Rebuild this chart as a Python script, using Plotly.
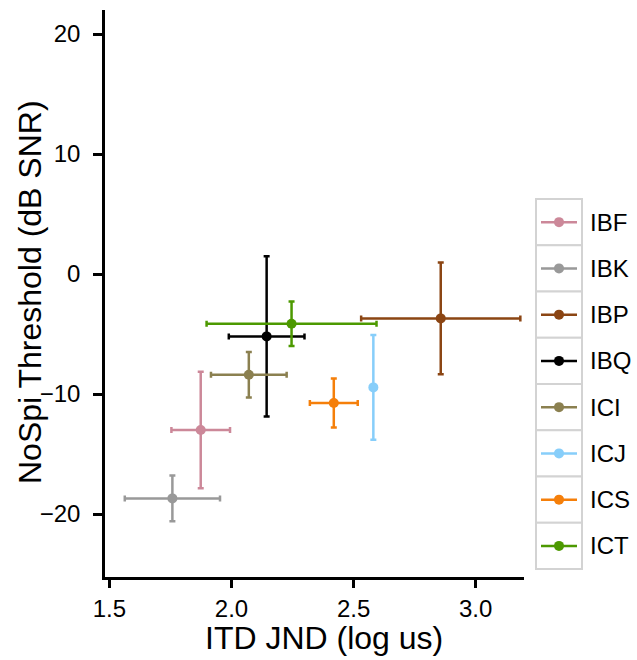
import plotly.graph_objects as go

names = ["IBF", "IBK", "IBP", "IBQ", "ICI", "ICJ", "ICS", "ICT"]
itd_jnd = [1.874, 1.758, 2.857, 2.144, 2.071, 2.581, 2.419, 2.246]
itd_err = [0.120, 0.195, 0.326, 0.155, 0.155, 0.0, 0.098, 0.348]
threshold = [-13.0, -18.7, -3.7, -5.2, -8.4, -9.45, -10.75, -4.15]
thr_err = [4.85, 1.9, 4.65, 6.68, 1.9, 4.37, 2.05, 1.85]
colors = ["#CC8899", "#999999", "#8B4513", "#000000", "#8B8050",
          "#87CEFA", "#F57F0A", "#4C9900"]

x_ticks = [1.5, 2.0, 2.5, 3.0]
x_ticklabels = ["1.5", "2.0", "2.5", "3.0"]
y_ticks = [-20, -10, 0, 10, 20]
x_title = "ITD JND (log us)"
y_title = "NoSpi Threshold (dB SNR)"

W, H = 637, 660
L, R, T, B = 105, 113, 10, 83
pw, ph = W - L - R, H - T - B

FONT = "Liberation Sans, Arial, sans-serif"

fig = go.Figure()
for n, x, xe, y, ye, c in zip(names, itd_jnd, itd_err, threshold, thr_err, colors):
    fig.add_trace(go.Scatter(
        x=[x], y=[y], name=n, mode="markers",
        marker=dict(color=c, size=10),
        error_x=dict(type="data", array=[xe], color=c, thickness=2.5, width=3, visible=xe > 0),
        error_y=dict(type="data", array=[ye], color=c, thickness=2.5, width=3),
        showlegend=False,
    ))

def px2x(px):
    return (px - L) / pw

def px2y(py):
    return (H - B - py) / ph

shapes = []
annotations = []
top = 199
step = 46.25
bx0, bx1 = 536, 582
for i, (n, c) in enumerate(zip(names, colors)):
    y0 = top + i * step
    y1 = y0 + step
    yc = (y0 + y1) / 2
    shapes.append(dict(type="rect", xref="paper", yref="paper",
                       x0=px2x(bx0), x1=px2x(bx1), y0=px2y(y1), y1=px2y(y0),
                       line=dict(color="#D3D3D3", width=2), fillcolor="white", layer="below"))
    shapes.append(dict(type="line", xref="paper", yref="paper",
                       x0=px2x(541), x1=px2x(577), y0=px2y(yc), y1=px2y(yc),
                       line=dict(color=c, width=2.5)))
    shapes.append(dict(type="circle", xref="paper", yref="paper",
                       x0=px2x(554), x1=px2x(564), y0=px2y(yc + 5), y1=px2y(yc - 5),
                       line=dict(color=c, width=0), fillcolor=c))
    annotations.append(dict(xref="paper", yref="paper", x=px2x(588), y=px2y(yc),
                            text=n, showarrow=False, xanchor="left", yanchor="middle",
                            font=dict(size=24, color="black", family=FONT)))

# axis titles
annotations.append(dict(xref="paper", yref="paper", x=px2x(324), y=px2y(638),
                        text=x_title, showarrow=False, xanchor="center", yanchor="middle",
                        font=dict(size=32, color="black", family=FONT)))
annotations.append(dict(xref="paper", yref="paper", x=px2x(30), y=px2y(292),
                        text=y_title, showarrow=False, xanchor="center", yanchor="middle",
                        textangle=-90,
                        font=dict(size=32, color="black", family=FONT)))

fig.update_layout(
    width=W, height=H,
    margin=dict(l=L, r=R, t=T, b=B, pad=0),
    paper_bgcolor="white", plot_bgcolor="white",
    font=dict(family=FONT, size=24, color="black"),
    showlegend=False,
    shapes=shapes,
    annotations=annotations,
    xaxis=dict(
        range=[1.482, 3.198], tickvals=x_ticks, ticktext=x_ticklabels,
        showline=True, linecolor="black", linewidth=2.5,
        ticks="outside", ticklen=8, tickwidth=2.5, tickcolor="black",
        showgrid=False, zeroline=False,
        tickfont=dict(size=24),
    ),
    yaxis=dict(
        range=[-25.25, 22], tickvals=y_ticks,
        showline=True, linecolor="black", linewidth=2.5,
        ticks="outside", ticklen=9, tickwidth=2.5, tickcolor="black",
        showgrid=False, zeroline=False,
        tickfont=dict(size=24),
        ticklabelstandoff=8,
    ),
)

fig.write_html("out.html")
